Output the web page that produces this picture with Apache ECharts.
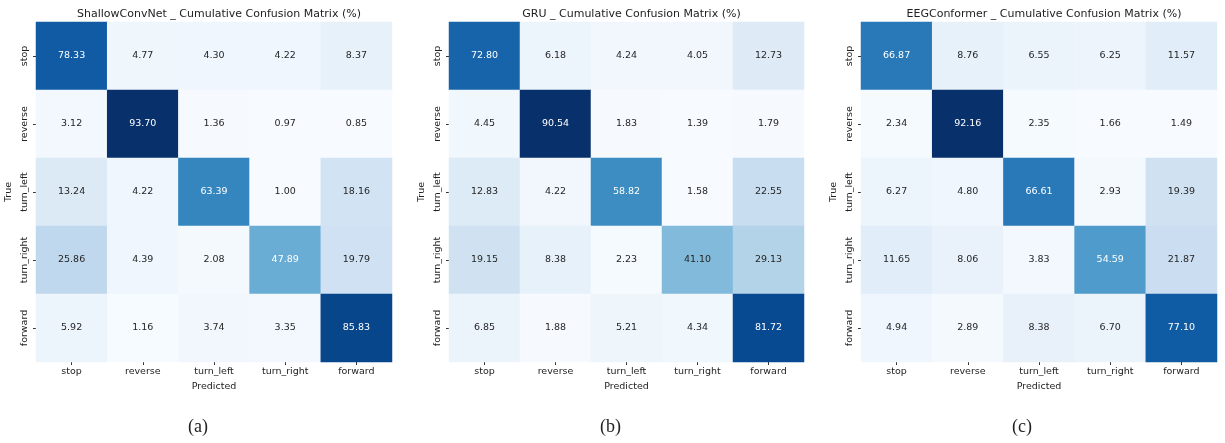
<!DOCTYPE html>
<html>
<head>
<meta charset="utf-8">
<script src="https://cdn.jsdelivr.net/npm/echarts@6/dist/echarts.min.js"></script>
<style>html,body{margin:0;padding:0;background:#fff}#c{width:1225px;height:443px}</style>
</head>
<body>
<div id="c"></div>
<script>
const classes = ['stop', 'reverse', 'turn_left', 'turn_right', 'forward'];
const titles = ['ShallowConvNet _ Cumulative Confusion Matrix (%)', 'GRU _ Cumulative Confusion Matrix (%)', 'EEGConformer _ Cumulative Confusion Matrix (%)'];
const captions = ['(a)', '(b)', '(c)'];
const shallowConvNet = [
  [78.33, 4.77, 4.30, 4.22, 8.37],
  [3.12, 93.70, 1.36, 0.97, 0.85],
  [13.24, 4.22, 63.39, 1.00, 18.16],
  [25.86, 4.39, 2.08, 47.89, 19.79],
  [5.92, 1.16, 3.74, 3.35, 85.83]
];
const gru = [
  [72.80, 6.18, 4.24, 4.05, 12.73],
  [4.45, 90.54, 1.83, 1.39, 1.79],
  [12.83, 4.22, 58.82, 1.58, 22.55],
  [19.15, 8.38, 2.23, 41.10, 29.13],
  [6.85, 1.88, 5.21, 4.34, 81.72]
];
const eegConformer = [
  [66.87, 8.76, 6.55, 6.25, 11.57],
  [2.34, 92.16, 2.35, 1.66, 1.49],
  [6.27, 4.80, 66.61, 2.93, 19.39],
  [11.65, 8.06, 3.83, 54.59, 21.87],
  [4.94, 2.89, 8.38, 6.70, 77.10]
];
const matrices = [shallowConvNet, gru, eegConformer];

const blues = ['#f7fbff','#deebf7','#c6dbef','#9ecae1','#6baed6','#4292c6','#2171b5','#08519c','#08306b'];
function hex(h){return [parseInt(h.substr(1,2),16),parseInt(h.substr(3,2),16),parseInt(h.substr(5,2),16)];}
function cmap(t){
  t = Math.max(0, Math.min(1, t));
  const p = t * (blues.length - 1); const i = Math.min(Math.floor(p), blues.length - 2); const f = p - i;
  const a = hex(blues[i]), b = hex(blues[i+1]);
  return a.map((v,k)=>v + (b[k]-v)*f);
}
function lum(rgb){
  const c = rgb.map(v=>{v/=255; return v<=0.03928? v/12.92 : Math.pow((v+0.055)/1.055,2.4);});
  return 0.2126*c[0]+0.7152*c[1]+0.0722*c[2];
}

const gridLefts = [36, 449, 861];
const gridWidths = [356, 355, 356];
const gridTop = 22, gridHeight = 340;
const grids = [], xAxes = [], yAxes = [], series = [], visualMaps = [], titleArr = [], graphics = [];
matrices.forEach((m, k) => {
  const flat = m.flat();
  const mn = Math.min(...flat), mx = Math.max(...flat);
  grids.push({left: gridLefts[k], top: gridTop, width: gridWidths[k], height: gridHeight});
  xAxes.push({
    type: 'category', gridIndex: k, data: classes, position: 'bottom',
    axisLine: {show: false}, splitLine: {show: false},
    axisTick: {show: true, alignWithLabel: true, length: 3, lineStyle: {color: '#333'}},
    axisLabel: {fontFamily: 'DejaVu Sans', fontSize: 9.5, color: '#222', margin: 5},
    name: 'Predicted', nameLocation: 'middle', nameGap: 19,
    nameTextStyle: {fontFamily: 'DejaVu Sans', fontSize: 9.5, color: '#222'}
  });
  yAxes.push({
    type: 'category', gridIndex: k, data: classes, inverse: true,
    axisLine: {show: false}, splitLine: {show: false},
    axisTick: {show: true, alignWithLabel: true, length: 3, lineStyle: {color: '#333'}},
    axisLabel: {fontFamily: 'DejaVu Sans', fontSize: 9.5, color: '#222', rotate: 90, margin: 6},
    name: 'True', nameLocation: 'middle', nameGap: 22, nameRotate: 90,
    nameTextStyle: {fontFamily: 'DejaVu Sans', fontSize: 9.5, color: '#222'}
  });
  const data = [];
  m.forEach((row, r) => row.forEach((v, c) => {
    const col = cmap((v - mn) / (mx - mn));
    data.push({value: [c, r, v], label: {color: lum(col) < 0.408 ? '#ffffff' : '#262626'}});
  }));
  series.push({
    type: 'heatmap', xAxisIndex: k, yAxisIndex: k, data: data,
    label: {show: true, fontFamily: 'DejaVu Sans', fontSize: 9.5, formatter: p => p.value[2].toFixed(2)},
    itemStyle: {borderWidth: 0}, emphasis: {disabled: true}
  });
  visualMaps.push({type: 'continuous', show: false, seriesIndex: k, dimension: 2, min: mn, max: mx, inRange: {color: blues}});
  const cx = gridLefts[k] + gridWidths[k] / 2;
  titleArr.push({text: titles[k], left: cx, top: 4, textAlign: 'center',
    textStyle: {fontFamily: 'DejaVu Sans', fontSize: 11, fontWeight: 'normal', color: '#222'}});
  graphics.push({type: 'text', left: [200, 612, 1024][k] - 12, top: 418,
    style: {text: captions[k], font: '18px "Liberation Serif"', fill: '#222'}});
});

const chart = echarts.init(document.getElementById('c'), null, {renderer: 'canvas'});
chart.setOption({
  animation: false, backgroundColor: '#fff',
  title: titleArr, grid: grids, xAxis: xAxes, yAxis: yAxes,
  visualMap: visualMaps, series: series, graphic: graphics
});
</script>
</body>
</html>
